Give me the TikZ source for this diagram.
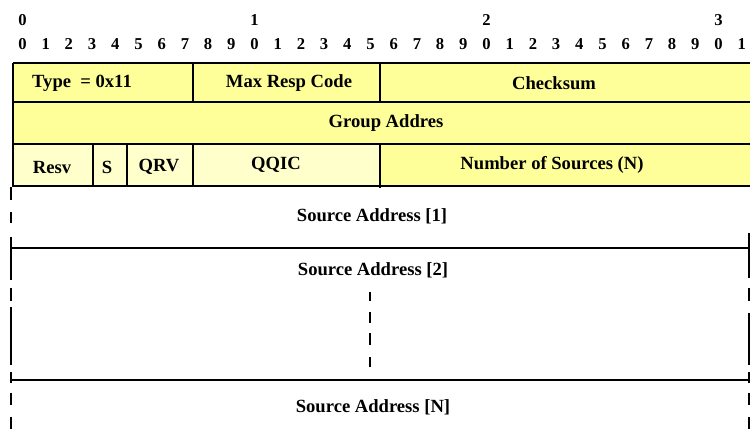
\documentclass[tikz,border=0pt]{standalone}
\usepackage{fontspec}
\setmainfont{Liberation Serif}
\definecolor{yel}{HTML}{FFFF99}
\definecolor{pale}{HTML}{FFFFCC}
\begin{document}
\begin{tikzpicture}[x=0.5pt,y=-0.5pt,
  lbl/.style={font=\fontsize{9.3}{11}\selectfont\bfseries, inner sep=0pt},
  dig/.style={font=\fontsize{8.3}{10}\selectfont\bfseries, inner sep=0pt},
  grid/.style={line width=0.9pt, draw=black},
  dsh/.style={line width=0.75pt, draw=black}]
\useasboundingbox (0,0) rectangle (750,429);
% fills
\fill[yel] (13,63) rectangle (750,144);
\fill[pale] (13,144) rectangle (380,186);
\fill[yel] (380,144) rectangle (750,186);
% header bit numbers
\foreach \i in {0,...,31}{
  \pgfmathtruncatemacro\d{mod(\i,10)}
  \node[dig] (b\i) at ({22.5+23.2*\i},44) {\d};
}
\node[dig] (t0) at (22.5,20) {0};
\node[dig] (t1) at (254.5,20) {1};
\node[dig] (t2) at (486.5,20) {2};
\node[dig] (t3) at (718.5,20) {3};
% table lines
\foreach \y in {63,102,144,186}{ \draw[grid] (13,\y) -- (750,\y); }
\draw[grid] (13,63) -- (13,187);
\draw[grid] (193,63) -- (193,102);
\draw[grid] (380,63) -- (380,102);
\draw[grid] (93,144) -- (93,186);
\draw[grid] (127,144) -- (127,186);
\draw[grid] (193,144) -- (193,186);
\draw[grid] (380,144) -- (380,188);
% labels
\node[lbl] (type) at (82,83) {Type \ = 0x11};
\node[lbl] (mrc) at (289,83) {Max Resp Code};
\node[lbl] (cks) at (554,83) {Checksum};
\node[lbl] (grp) at (386,123) {Group Addres};
\node[lbl] (resv) at (52,167) {Resv};
\node[lbl] (s) at (107,167) {S};
\node[lbl] (qrv) at (159,167) {QRV};
\node[lbl] (qqic) at (276,165) {QQIC};
\node[lbl] (nos) at (552,165) {Number of Sources (N)};
\node[lbl] (sa1) at (372,216) {Source Address [1]};
\node[lbl] (sa2) at (373,270) {Source Address [2]};
\node[lbl] (san) at (373,407) {Source Address [N]};
% source rows
\draw[grid] (11,248) -- (750,248);
\draw[grid] (11,380) -- (750,380);
\foreach \a/\b in {187/200,212/223,237/280,288/301,307/365,372/383,393/405,417/429}{
  \draw[dsh] (11,\a) -- (11,\b);
}
\foreach \a/\b in {233/278,288/301,313/365,372/383,393/405,417/429}{
  \draw[dsh] (749,\a) -- (749,\b);
}
\foreach \a/\b in {292/301,312/323,333/345,357/367}{
  \draw[dsh] (370,\a) -- (370,\b);
}
\end{tikzpicture}
\end{document}
